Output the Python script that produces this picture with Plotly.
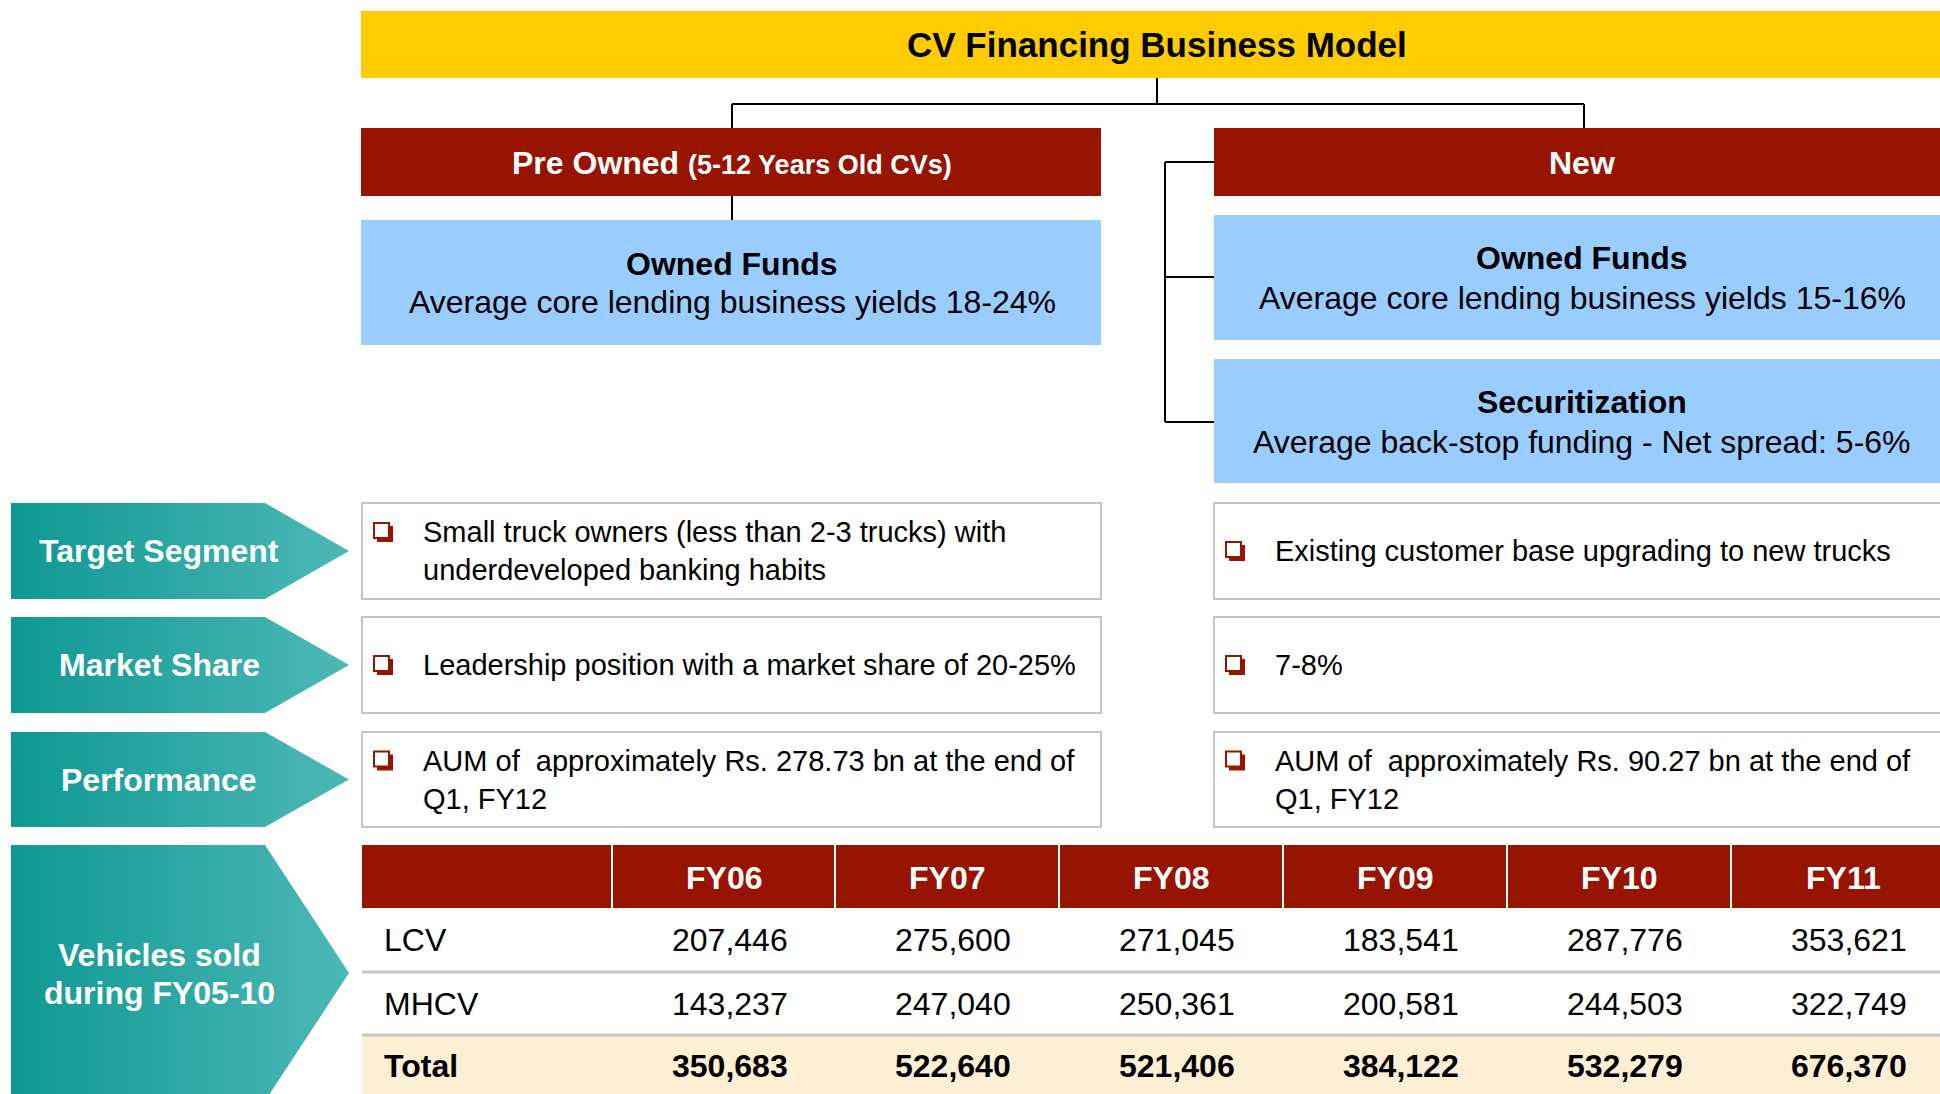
import plotly.graph_objects as go

#_______________________________________________________________________________
# Data

title = "CV Financing Business Model"
segments = ["Pre Owned", "New"]
segment_note = "(5-12 Years Old CVs)"
funding_left = [("Owned Funds", "Average core lending business yields 18-24%")]
funding_right = [("Owned Funds", "Average core lending business yields 15-16%"),
                 ("Securitization", "Average back-stop funding - Net spread: 5-6%")]

row_labels = ["Target Segment", "Market Share", "Performance"]
pre_owned_text = [
    ["Small truck owners (less than 2-3 trucks) with", "underdeveloped banking habits"],
    ["Leadership position with a market share of 20-25%"],
    ["AUM of  approximately Rs. 278.73 bn at the end of", "Q1, FY12"],
]
new_text = [
    ["Existing customer base upgrading to new trucks"],
    ["7-8%"],
    ["AUM of  approximately Rs. 90.27 bn at the end of", "Q1, FY12"],
]

table_label = ["Vehicles sold", "during FY05-10"]
years = ["FY06", "FY07", "FY08", "FY09", "FY10", "FY11"]
lcv = [207446, 275600, 271045, 183541, 287776, 353621]
mhcv = [143237, 247040, 250361, 200581, 244503, 322749]
total = [350683, 522640, 521406, 384122, 532279, 676370]

#_______________________________________________________________________________
# Style

FONT = "Liberation Sans, Arial, sans-serif"
YELLOW = "#FFCC00"
DARKRED = "#961400"
BLUE = "#99CCFF"
GREY = "#C6C6C6"
BEIGE = "#FDEFD3"

fig = go.Figure()
shapes = []
annots = []


def rect(x0, y0, x1, y1, fill, line=None, lw=0):
    shapes.append(dict(type="rect", x0=x0, y0=y0, x1=x1, y1=y1, fillcolor=fill,
                       line=dict(color=line or fill, width=lw), layer="below"))


def seg(x0, y0, x1, y1, color="#000000", w=2):
    shapes.append(dict(type="line", x0=x0, y0=y0, x1=x1, y1=y1,
                       line=dict(color=color, width=w), layer="below"))


def text(x, y, s, size=32, color="#000000", bold=False, anchor="center"):
    if bold:
        s = "<b>" + s + "</b>"
    annots.append(dict(x=x, y=y, text=s, showarrow=False, xanchor=anchor, yanchor="middle",
                       font=dict(family=FONT, size=size, color=color)))


def bullet(x, cy):
    shapes.append(dict(type="rect", x0=x + 3, y0=cy - 6, x1=x + 19, y1=cy + 10,
                       fillcolor=DARKRED, line=dict(width=0), layer="above"))
    shapes.append(dict(type="rect", x0=x, y0=cy - 9, x1=x + 15, y1=cy + 6,
                       fillcolor="white", line=dict(color=DARKRED, width=2), layer="above"))


#_______________________________________________________________________________
# Top tree

rect(361, 11, 1940, 78, YELLOW)
text(1157, 44, title, size=35, bold=True)

seg(1157, 78, 1157, 104)
seg(732, 104, 1584, 104)
seg(732, 104, 732, 128)
seg(1584, 104, 1584, 128)

rect(361, 128, 1101, 196, DARKRED)
text(732, 163, segments[0] + " <span style='font-size:27px'>" + segment_note + "</span>",
     color="white", bold=True)
rect(1214, 128, 1940, 196, DARKRED)
text(1582, 163, segments[1], color="white", bold=True)

seg(732, 196, 732, 220)
rect(361, 220, 1101, 345, BLUE)
text(732, 264, funding_left[0][0], bold=True)
text(732, 302, funding_left[0][1])

seg(1165, 162, 1165, 422)
for yy in (162, 277, 422):
    seg(1165, yy, 1214, yy)

for (head, sub), (y0, y1) in zip(funding_right, [(215, 340), (359, 483)]):
    rect(1214, y0, 1940, y1, BLUE)
    text(1582, y0 + 43, head, bold=True)
    text(1582, y0 + 83, sub)

#_______________________________________________________________________________
# Chevrons + text boxes

rows = [(503, 599), (617, 713), (732, 827)]


def chevron(y0, y1):
    mid = (y0 + y1) / 2
    fig.add_trace(go.Scatter(
        x=[11, 265, 349, 265, 11, 11], y=[y0, y0, mid, y1, y1, y0],
        mode="lines", fill="toself", line=dict(width=0, color="rgba(0,0,0,0)"),
        fillgradient=dict(type="horizontal", colorscale=[[0, "#0E9893"], [1, "#4DB8B6"]]),
        hoverinfo="skip", showlegend=False))


for label, left_lines, right_lines, (y0, y1) in zip(row_labels, pre_owned_text, new_text, rows):
    chevron(y0, y1)
    text(159, (y0 + y1) / 2, label, color="white", bold=True)
    for bx, lines in ((362, left_lines), (1214, right_lines)):
        x1 = 1101 if bx == 362 else 1960
        rect(bx, y0, x1, y1, "white", GREY, 2)
        cy = (y0 + y1) / 2
        if len(lines) == 1:
            ys = [cy]
        else:
            ys = [cy - 19, cy + 19]
        bullet(bx + 12, ys[0])
        for ly, s in zip(ys, lines):
            text(bx + 59, ly, s, size=29, anchor="left")

#_______________________________________________________________________________
# Table

chevron(845, 1101)
text(159, 955, table_label[0], color="white", bold=True)
text(159, 993, table_label[1], color="white", bold=True)

col_edges = [362, 612, 835, 1059, 1283, 1507, 1731, 1955]
rect(362, 845, 1960, 908, DARKRED)
rect(362, 908, 1960, 1035, "white")
rect(362, 1035, 1960, 1100, BEIGE)
seg(362, 972, 1960, 972, GREY, 3)
seg(362, 1035, 1960, 1035, GREY, 3)
for xe in col_edges[1:-1]:
    seg(xe, 845, xe, 908, "white", 2)

text(382, 940, "LCV", anchor="left")
text(382, 1004, "MHCV", anchor="left")
text(382, 1066, "Total", bold=True, anchor="left")

for i, yr in enumerate(years):
    cx = (col_edges[i + 1] + col_edges[i + 2]) / 2
    text(cx, 878, yr, color="white", bold=True)
    text(cx + 6, 940, f"{lcv[i]:,}")
    text(cx + 6, 1004, f"{mhcv[i]:,}")
    text(cx + 6, 1066, f"{total[i]:,}", bold=True)

#_______________________________________________________________________________
# Layout

fig.update_layout(
    width=1940, height=1094,
    margin=dict(l=0, r=0, t=0, b=0),
    paper_bgcolor="white", plot_bgcolor="white",
    xaxis=dict(range=[0, 1940], visible=False, fixedrange=True),
    yaxis=dict(range=[1094, 0], visible=False, fixedrange=True),
    shapes=shapes, annotations=annots,
    showlegend=False,
)

fig.write_html("out.html", config=dict(displayModeBar=False),
               post_script="document.body.style.margin='0';document.body.style.overflow='hidden';")
